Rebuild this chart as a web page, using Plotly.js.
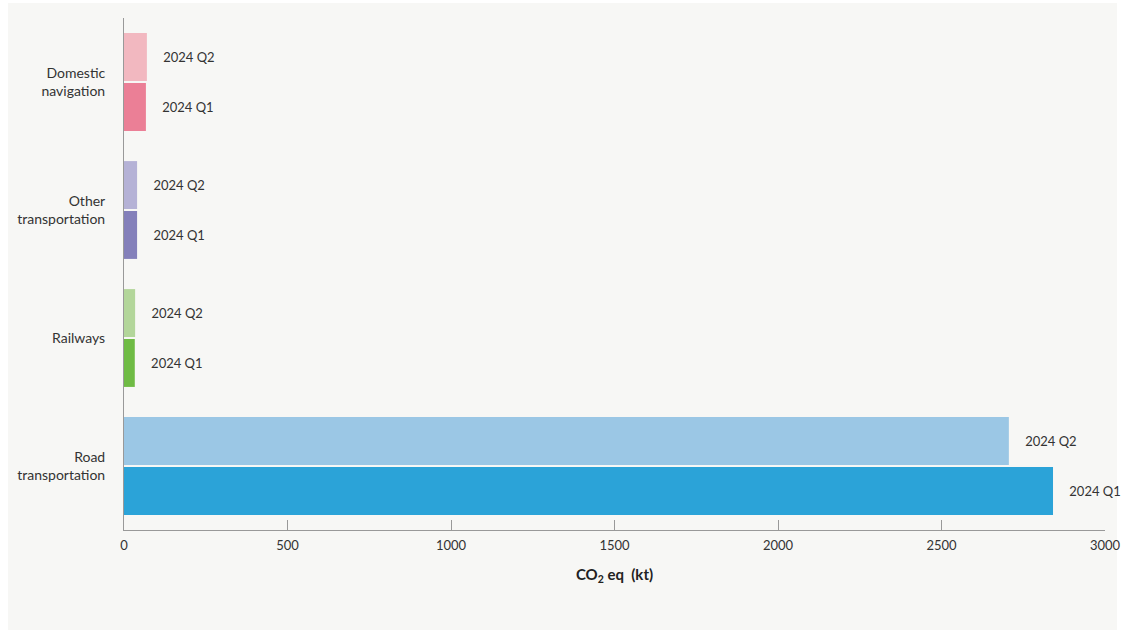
<!DOCTYPE html>
<html>
<head>
<meta charset="utf-8">
<script src="https://cdn.plot.ly/plotly-3.0.1.min.js"></script>
<style>html,body{margin:0;padding:0;background:#fff;}#chart{width:1124px;height:631px;}</style>
</head>
<body>
<div id="chart"></div>
<script>
const categories = ["Road<br>transportation", "Railways", "Other<br>transportation", "Domestic<br>navigation"];
const q1Values = [2841, 33, 40, 67];
const q2Values = [2706, 34, 40, 70];
const q1Colors = ["#2ba3d8", "#6fbb44", "#8480ba", "#eb7f96"];
const q2Colors = ["#9bc7e5", "#b3d69a", "#b5b2d6", "#f2b8c0"];
const seriesNames = ["2024 Q1", "2024 Q2"];
const xTicks = [0, 500, 1000, 1500, 2000, 2500, 3000];

const FONT = "Lato, 'Noto Sans', sans-serif";
const pad = "\u00a0\u00a0\u00a0\u00a0";

function trace(vals, colors, name) {
  return {
    type: "bar", orientation: "h", x: vals, y: categories, name: name,
    marker: {color: colors},
    text: vals.map(() => pad + name), textposition: "outside",
    textfont: {family: FONT, size: 13, color: "#333"},
    cliponaxis: false, hoverinfo: "x+name"
  };
}

const data = [trace(q1Values, q1Colors, seriesNames[0]), trace(q2Values, q2Colors, seriesNames[1])];

const layout = {
  width: 1124, height: 631,
  margin: {l: 124, r: 19, t: 18, b: 101},
  paper_bgcolor: "#ffffff", plot_bgcolor: "rgba(0,0,0,0)",
  barmode: "group", bargap: 0.22, bargroupgap: 0.04,
  showlegend: false,
  font: {family: FONT, color: "#333"},
  shapes: [{type: "rect", xref: "paper", yref: "paper", layer: "below",
    x0: (8 - 124) / 981, x1: (1117 - 124) / 981, y0: (530 - 630) / 512, y1: (530 - 3) / 512,
    fillcolor: "#f7f7f5", line: {width: 0}}],
  xaxis: {
    range: [0, 3000], tickvals: xTicks, ticktext: xTicks.map(String),
    showgrid: false, zeroline: false, showline: true, linecolor: "#999", linewidth: 1,
    ticks: "inside", ticklen: 10, tickcolor: "#999",
    tickfont: {family: FONT, size: 13, color: "#333"}, ticklabelstandoff: 3,
    title: {text: "<b>CO<sub>2</sub> eq  (kt)</b>", font: {family: FONT, size: 15, color: "#222"}, standoff: 17},
    fixedrange: true
  },
  yaxis: {
    range: [-0.5, 3.5], showgrid: false, zeroline: false, showline: true, linecolor: "#999", linewidth: 1,
    ticks: "", tickfont: {family: FONT, size: 14, color: "#333"}, ticklabelstandoff: 15,
    automargin: false, fixedrange: true
  }
};

Plotly.newPlot("chart", data, layout, {displayModeBar: false, staticPlot: true});
</script>
</body>
</html>
